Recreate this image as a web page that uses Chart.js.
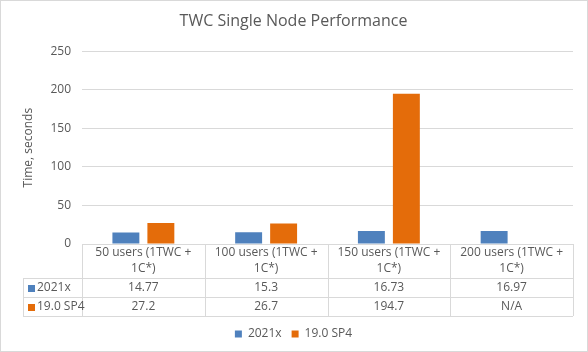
<!DOCTYPE html>
<html>
<head>
<meta charset="utf-8">
<script src="https://cdn.jsdelivr.net/npm/chart.js@4/dist/chart.umd.min.js"></script>
<style>
  html, body { margin: 0; padding: 0; background: #fff; }
  #wrap { width: 588px; height: 352px; position: relative; }
</style>
</head>
<body>
<div id="wrap"><canvas id="perf-chart" width="588" height="352"></canvas></div>
<script>
// chart data
const categories = [
  ['50 users (1TWC +', '1C*)'],
  ['100 users (1TWC +', '1C*)'],
  ['150 users (1TWC +', '1C*)'],
  ['200 users (1TWC +', '1C*)']
]
const seriesNames = ['2021x', '19.0 SP4']
const values2021x = [14.77, 15.3, 16.73, 16.97]
const values190sp4 = [27.2, 26.7, 194.7, null]
const yTicks = [0, 50, 100, 150, 200, 250]

const colors = ['#4f81bd', '#e46c0a']
const textColor = '#595959'
const lineColor = '#d9d9d9'
const fontFamily = '"Open Sans", "Liberation Sans", sans-serif'

// draws the data table under the plot and the outer border
const dataTable = {
  id: 'dataTable',
  afterDraw(chart) {
    const { ctx, chartArea, scales } = chart
    const x = scales.x
    const n = categories.length
    const step = (chartArea.right - chartArea.left) / n
    const top = chartArea.bottom
    const headH = 34
    const rowH = 19
    const tableLeft = 23
    const rows = [values2021x, values190sp4]

    ctx.save()
    ctx.strokeStyle = lineColor
    ctx.lineWidth = 1

    const hline = (x1, x2, y) => {
      ctx.beginPath(); ctx.moveTo(x1, Math.round(y) + 0.5); ctx.lineTo(x2, Math.round(y) + 0.5); ctx.stroke()
    }
    const vline = (xx, y1, y2) => {
      ctx.beginPath(); ctx.moveTo(Math.round(xx) + 0.5, y1); ctx.lineTo(Math.round(xx) + 0.5, y2); ctx.stroke()
    }

    const bottom = top + headH + rowH * 2
    hline(chartArea.left, chartArea.right, top)
    hline(tableLeft, chartArea.right, top + headH)
    hline(tableLeft, chartArea.right, top + headH + rowH)
    hline(tableLeft, chartArea.right, bottom)
    vline(tableLeft, top + headH, bottom)
    for (let i = 0; i <= n; i++) {
      vline(chartArea.left + step * i, top, bottom)
    }

    ctx.fillStyle = textColor
    ctx.font = '12px ' + fontFamily
    ctx.textAlign = 'center'
    ctx.textBaseline = 'middle'
    categories.forEach((lines, i) => {
      const cx = x.getPixelForValue(i)
      lines.forEach((t, j) => ctx.fillText(t, cx, top + 9 + j * 16))
      rows.forEach((vals, r) => {
        const v = vals[i]
        ctx.fillStyle = textColor
        ctx.fillText(v === null ? 'N/A' : String(v), cx, top + headH + rowH * r + rowH / 2)
      })
    })

    // series keys in the first column
    ctx.textAlign = 'left'
    seriesNames.forEach((name, r) => {
      const cy = top + headH + rowH * r + rowH / 2
      ctx.fillStyle = colors[r]
      ctx.fillRect(28, Math.round(cy) - 3, 7, 7)
      ctx.fillStyle = textColor
      ctx.fillText(name, 37, cy)
    })

    // outer border
    ctx.strokeStyle = lineColor
    ctx.strokeRect(0.5, 0.5, chart.width - 1, chart.height - 1)
    ctx.restore()
  }
}

new Chart(document.getElementById('perf-chart'), {
  type: 'bar',
  data: {
    labels: categories,
    datasets: [
      {
        label: seriesNames[0],
        data: values2021x,
        backgroundColor: colors[0],
        categoryPercentage: 0.57,
        barPercentage: 0.77
      },
      {
        label: seriesNames[1],
        data: values190sp4,
        backgroundColor: colors[1],
        categoryPercentage: 0.57,
        barPercentage: 0.77
      }
    ]
  },
  options: {
    responsive: false,
    animation: false,
    layout: { padding: { left: 14, right: 15, top: 0, bottom: 2 } },
    scales: {
      x: {
        ticks: { display: false },
        grid: { display: false },
        border: { display: false },
        afterFit(scale) { scale.height = 74 }
      },
      y: {
        min: 0,
        max: yTicks[yTicks.length - 1],
        afterBuildTicks(scale) { scale.ticks = yTicks.map((v) => ({ value: v })) },
        ticks: { color: textColor, font: { size: 12, family: fontFamily }, padding: 11 },
        grid: { color: lineColor, drawTicks: false },
        border: { display: false },
        title: {
          display: true,
          text: 'Time, seconds',
          color: textColor,
          font: { size: 12, family: fontFamily },
          padding: { top: 7, bottom: 4 }
        },
        afterFit(scale) { scale.width = 68 }
      }
    },
    plugins: {
      title: {
        display: true,
        text: 'TWC Single Node Performance',
        color: textColor,
        font: { size: 16, weight: 'normal', family: fontFamily },
        padding: { top: 12, bottom: 20 }
      },
      legend: {
        position: 'bottom',
        labels: {
          color: textColor,
          boxWidth: 7,
          boxHeight: 7,
          padding: 10,
          font: { size: 12, family: fontFamily }
        }
      },
      tooltip: { enabled: false }
    }
  },
  plugins: [dataTable]
})
</script>
</body>
</html>
